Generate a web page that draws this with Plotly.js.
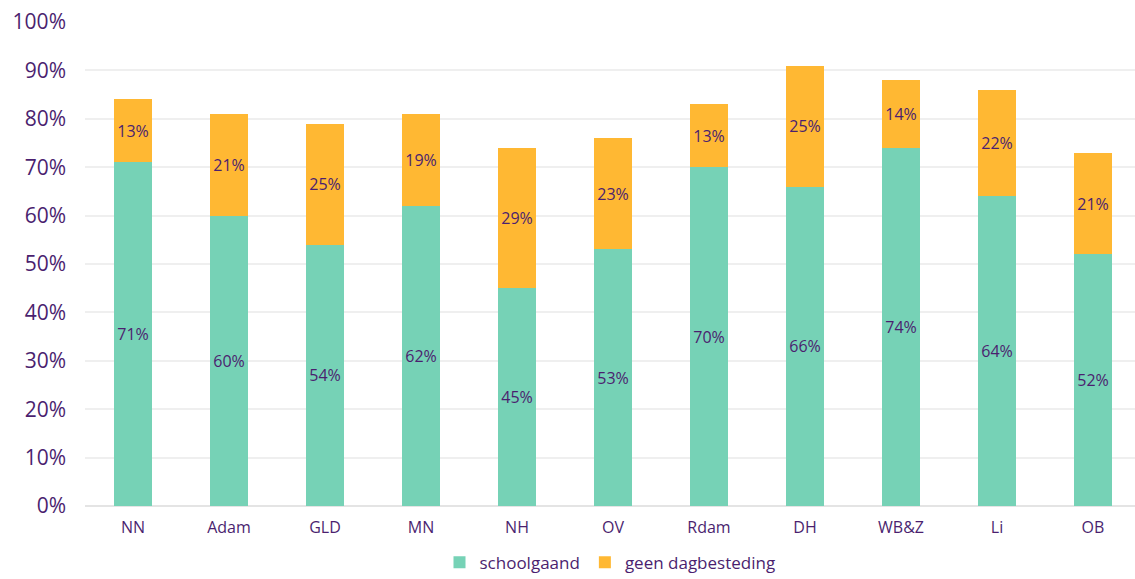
<!DOCTYPE html>
<html><head><meta charset="utf-8">
<script src="https://cdn.plot.ly/plotly-3.0.1.min.js"></script>
<style>body{margin:0;background:#fff}#c{width:1135px;height:579px}</style>
</head><body><div id="c"></div>
<script>
var categories = ["NN","Adam","GLD","MN","NH","OV","Rdam","DH","WB&Z","Li","OB"];
var schoolgaand = [71,60,54,62,45,53,70,66,74,64,52];
var geenDagbesteding = [13,21,25,19,29,23,13,25,14,22,21];
var txtColor = "#4b1f6f";
var font = "Open Sans, sans-serif";
function tr(name, vals, color){
  return {type:"bar", name:name, x:categories, y:vals,
    marker:{color:color},
    text:vals.map(function(v){return v+"%";}),
    textposition:"inside", insidetextanchor:"middle", textangle:0,
    textfont:{color:txtColor, size:16, family:font},
    hoverinfo:"none", width:0.4};
}
var data = [tr("schoolgaand", schoolgaand, "#76d2b6"), tr("geen dagbesteding", geenDagbesteding, "#ffb833")];
var layout = {
  width:1135, height:579, barmode:"stack",
  margin:{l:85, r:0, t:22, b:73, autoexpand:false},
  paper_bgcolor:"#fff", plot_bgcolor:"#fff",
  font:{family:font, color:txtColor},
  xaxis:{range:[-0.5,10.4375], tickfont:{size:16, color:txtColor}, showgrid:false, zeroline:false, showline:false, ticks:"", ticklabelstandoff:10, automargin:false},
  yaxis:{range:[0,100], dtick:10, ticksuffix:"%", tickfont:{size:21, color:txtColor},
    gridcolor:"#efefef", gridwidth:2, zeroline:true, zerolinecolor:"#e4e4e4", zerolinewidth:2,
    ticklabelstandoff:18, automargin:false},
  legend:{orientation:"h", x:0.5, xref:"paper", xanchor:"center", y:0.028, yref:"container", yanchor:"middle", font:{size:17, color:txtColor}, traceorder:"normal", itemwidth:30},
  showlegend:true
};
Plotly.newPlot("c", data, layout, {displayModeBar:false, staticPlot:true});
</script></body></html>
